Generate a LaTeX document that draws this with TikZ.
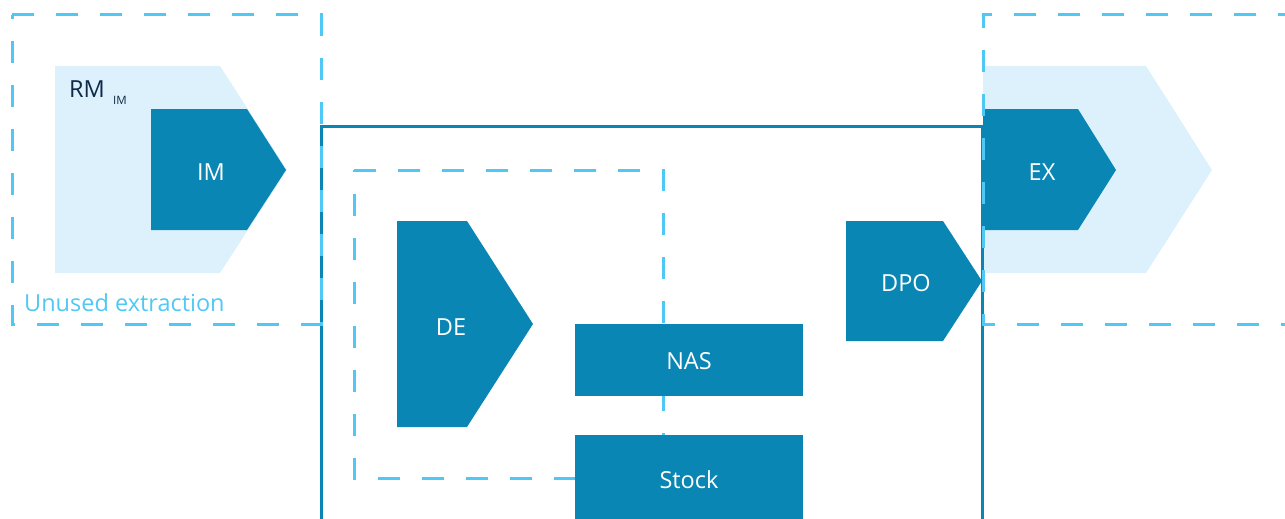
\documentclass[tikz,border=0pt]{standalone}
\usepackage{fontspec}
\setmainfont{Open Sans}
\definecolor{darkblue}{HTML}{0A86B4}
\definecolor{lightfill}{HTML}{DCF1FC}
\definecolor{dashblue}{HTML}{4FC8F5}
\definecolor{navy}{HTML}{0E2A47}
\tikzset{
  dashbox/.style={draw=dashblue, line width=3pt, dash pattern=on 22pt off 22pt},
  solidbox/.style={draw=darkblue, line width=3pt},
  lbl/.style={text=white, font=\fontsize{23.5}{27}\selectfont, inner sep=0pt},
  darkshape/.style={fill=darkblue},
  lightshape/.style={fill=lightfill}
}
\begin{document}
\begin{tikzpicture}[x=1pt,y=-1pt]
\useasboundingbox (0,0) rectangle (1285,519);
\clip (0,0) rectangle (1285,519);
% light shapes
\fill[lightshape] (55,66) -- (220,66) -- (287,170) -- (220,273) -- (55,273) -- cycle;
\fill[lightshape] (983,66) -- (1146,66) -- (1212,170) -- (1146,273) -- (983,273) -- cycle;
% inner dashed box
\draw[dashbox] (354,170) -- (663,170) -- (663,478) -- (354,478) -- cycle;
% dark shapes
\fill[darkshape] (151,109) -- (247,109) -- (286,170) -- (247,230) -- (151,230) -- cycle;
\fill[darkshape] (983,109) -- (1078,109) -- (1116,170) -- (1078,230) -- (983,230) -- cycle;
\fill[darkshape] (397,221) -- (467,221) -- (533,324) -- (467,427) -- (397,427) -- cycle;
\fill[darkshape] (846,221) -- (943,221) -- (982,281) -- (943,341) -- (846,341) -- cycle;
\fill[darkshape] (575,324) rectangle (803,396);
\fill[darkshape] (575,435) rectangle (803,530);
% solid box
\draw[solidbox] (321,530) -- (321,126) -- (982,126) -- (982,530);
% dashed boxes
\draw[dashbox] (12,15) -- (321,15) -- (321,324) -- (12,324) -- cycle;
\draw[dashbox] (1300,15) -- (983,15) -- (983,324) -- (1300,324);
% labels
\node[lbl] (im) at (211,172) {IM};
\node[lbl] (ex) at (1042,172) {EX};
\node[lbl] (de) at (451,327) {DE};
\node[lbl] (dpo) at (906,283) {DPO};
\node[lbl] (nas) at (689,361) {NAS};
\node[lbl] (stock) at (689,480) {Stock};
\node[anchor=base west, inner sep=0pt, text=navy, font=\fontsize{23.5}{27}\selectfont] (rm) at (69,97) {RM};
\node[anchor=base west, inner sep=0pt, text=navy, font=\fontsize{11.5}{13}\selectfont] (rmsub) at (113,104) {IM};
\node[anchor=base west, inner sep=0pt, text=dashblue, font=\fontsize{23.5}{27}\selectfont] (unused) at (24,311) {Unused extraction};
\end{tikzpicture}
\end{document}
